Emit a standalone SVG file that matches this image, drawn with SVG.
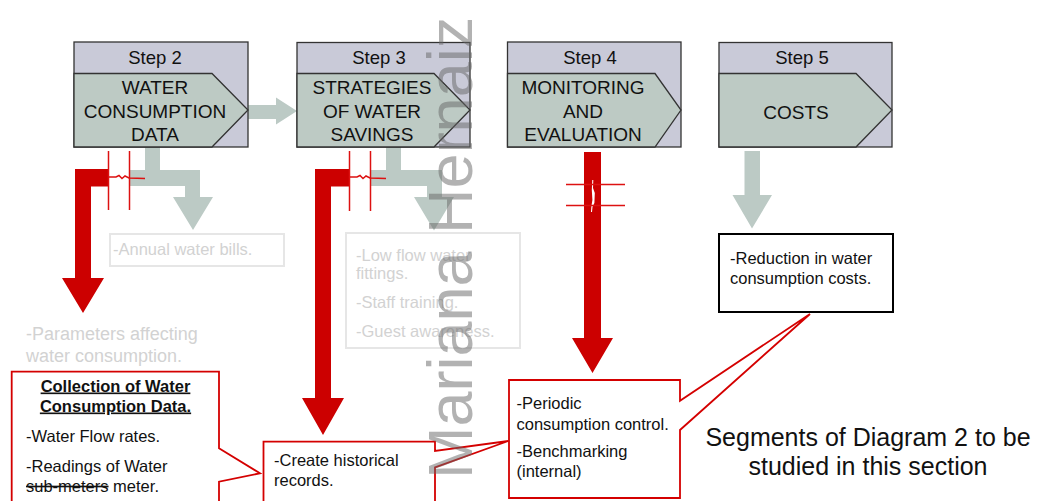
<svg xmlns="http://www.w3.org/2000/svg" width="1037" height="501" viewBox="0 0 1037 501">
  <style>
    text { font-family: "Liberation Sans", Arial, sans-serif; fill: #111; }
    .hdr { fill: #c9cad8; stroke: #333; stroke-width: 1.3; }
    .body { fill: #bdcac4; stroke: #333; stroke-width: 1.3; stroke-linejoin: miter; }
    .step { font-size: 18.5px; text-anchor: middle; }
    .lbl { font-size: 19px; text-anchor: middle; }
    .grey-arrow { fill: #bccac5; }
    .red-arrow { fill: #cc0000; }
    .brk { stroke: #dd1111; stroke-width: 1.5; fill: none; }
    .callout { fill: #fff; stroke: #d40000; stroke-width: 1.8; stroke-linejoin: miter; }
    .note { font-size: 16.5px; }
    .faded { font-size: 16.5px; fill: #d2d2d2; }
    .faded-box { fill: none; stroke: #e6e6e6; stroke-width: 2; }
    .mark { font-size: 63px; fill: #666; fill-opacity: 0.5; }
  </style>

  <!-- connectors: grey flow arrows and red focus arrows -->
  <g id="connectors">
    <polygon class="grey-arrow" points="248,105 276,105 276,97.5 297,111 276,124.5 276,119 248,119"/>
    <polygon class="grey-arrow" points="145,147 160,147 160,170 200,170 200,197 213,197 193,230 173,197 185,197 185,186 130,186 130,170 145,170"/>
    <polygon class="grey-arrow" points="386,147 401,147 401,170 442,170 442,197 454,197 434,230.5 414,197 427,197 427,186 371,186 371,170 386,170"/>
    <polygon class="grey-arrow" points="744.5,151 760,151 760,195 772,195 752,228.5 732.5,195 744.5,195"/>

    <!-- step 2 red arrow with break symbol -->
    <polygon class="red-arrow" points="75,169 108,169 108,186.5 91,186.5 91,278 104,278 83,313 62,278 75,278"/>
    <line class="brk" x1="108.5" y1="151" x2="108.5" y2="210"/>
    <line class="brk" x1="129.5" y1="151" x2="129.5" y2="210"/>
    <polyline class="brk" points="108,177 116,177 119,175.5 122,178.5 125,176 129,178 145,178.5"/>

    <!-- step 3 red arrow with break symbol -->
    <polygon class="red-arrow" points="315,169 349,169 349,186.5 331,186.5 331,398 344,398 323,435 302,398 315,398"/>
    <line class="brk" x1="349.5" y1="151" x2="349.5" y2="211"/>
    <line class="brk" x1="370.5" y1="151" x2="370.5" y2="211"/>
    <polyline class="brk" points="349,177 357,177 360,175.5 363,178.5 366,176 370,178 386,178.5"/>

    <!-- step 4 red arrow with break symbol -->
    <polygon class="red-arrow" points="584,152 601,152 601,338 613,338 592.5,373 572,338 584,338"/>
    <polygon fill="#fff" points="592.3,180 593.3,180 593,188 594.8,193 594.4,203 592.5,207 592,212 591,212 591.4,206 592.4,200 591.8,190"/>
    <line class="brk" x1="566" y1="184.5" x2="625" y2="184.5"/>
    <line class="brk" x1="566" y1="205.5" x2="625" y2="205.5"/>
  </g>

  <!-- process steps -->
  <g id="step2">
    <rect class="hdr" x="74" y="42" width="174" height="105"/>
    <polygon class="body" points="74,73.5 212,73.5 248,110 212,147 74,147"/>
    <text class="step" x="155" y="63.5">Step 2</text>
    <text class="lbl" x="155" y="94">WATER</text>
    <text class="lbl" x="155" y="117.5">CONSUMPTION</text>
    <text class="lbl" x="155" y="141">DATA</text>
  </g>
  <g id="step3">
    <rect class="hdr" x="297" y="42.5" width="173" height="104.5"/>
    <polygon class="body" points="297,73.5 434,73.5 470,110 434,147 297,147"/>
    <text class="step" x="379" y="63.5">Step 3</text>
    <text class="lbl" x="372" y="94">STRATEGIES</text>
    <text class="lbl" x="372" y="117.5">OF WATER</text>
    <text class="lbl" x="372" y="141">SAVINGS</text>
  </g>
  <g id="step4">
    <rect class="hdr" x="507.5" y="42" width="173.5" height="105"/>
    <polygon class="body" points="507.5,73.5 655,73.5 681,110 655,147 507.5,147"/>
    <text class="step" x="590" y="63.5">Step 4</text>
    <text class="lbl" x="583" y="94">MONITORING</text>
    <text class="lbl" x="583" y="117.5">AND</text>
    <text class="lbl" x="583" y="141">EVALUATION</text>
  </g>
  <g id="step5">
    <rect class="hdr" x="719" y="42.5" width="173" height="104.5"/>
    <polygon class="body" points="719,73.5 856,73.5 892,110 856,147 719,147"/>
    <text class="step" x="802" y="63.5">Step 5</text>
    <text class="lbl" x="796" y="119">COSTS</text>
  </g>

  <!-- greyed-out outputs -->
  <g id="annual-bills">
    <rect class="faded-box" x="110" y="234" width="174" height="32"/>
    <text class="faded" x="113" y="255">-Annual water bills.</text>
  </g>
  <g id="water-savings">
    <rect class="faded-box" x="346" y="233" width="174" height="115"/>
    <text class="faded" x="356" y="261">-Low flow water</text>
    <text class="faded" x="356" y="279">fittings.</text>
    <text class="faded" x="356" y="308">-Staff training.</text>
    <text class="faded" x="356" y="337">-Guest awareness.</text>
  </g>
  <g id="parameters">
    <text class="faded" x="26" y="340" style="font-size:18px">-Parameters affecting</text>
    <text class="faded" x="26" y="361.5" style="font-size:18px">water consumption.</text>
  </g>

  <!-- highlighted outputs -->
  <g id="cost-reduction">
    <rect x="719" y="234" width="174" height="78" fill="#fff" stroke="#000" stroke-width="2"/>
    <text class="note" x="730" y="264">-Reduction in water</text>
    <text class="note" x="730" y="283.5">consumption costs.</text>
  </g>
  <g id="monitoring-notes">
    <polygon class="callout" points="509,380 680,380 680,400.7 810,314 680,430 680,498 509,498"/>
    <text class="note" x="516.5" y="408.5">-Periodic</text>
    <text class="note" x="516.5" y="429.5">consumption control.</text>
    <text class="note" x="516.5" y="457">-Benchmarking</text>
    <text class="note" x="516.5" y="477">(internal)</text>
  </g>
  <g id="historical-records">
    <polygon class="callout" points="263.5,441.7 435,441.7 435,451 508.3,441 435,467.3 435,520 263.5,520"/>
    <text class="note" x="274" y="466">-Create historical</text>
    <text class="note" x="274" y="486">records.</text>
  </g>
  <g id="data-collection">
    <polygon class="callout" points="11.7,371.7 219,371.7 219,448.3 260,473.3 219,481.7 219,520 11.7,520"/>
    <text class="note" x="115.5" y="391.5" text-anchor="middle" font-weight="bold" text-decoration="underline">Collection of Water</text>
    <text class="note" x="115.5" y="411.5" text-anchor="middle" font-weight="bold" text-decoration="underline">Consumption Data.</text>
    <text class="note" x="26" y="441.5">-Water Flow rates.</text>
    <text class="note" x="26" y="471.5">-Readings of Water</text>
    <text class="note" x="26" y="491.5"><tspan text-decoration="line-through">sub-meters</tspan> meter.</text>
  </g>

  <g id="caption">
    <text x="868" y="446" text-anchor="middle" style="font-size:25px">Segments of Diagram 2 to be</text>
    <text x="868" y="475" text-anchor="middle" style="font-size:25px">studied in this section</text>
  </g>

  <!-- author mark running up the page -->
  <text class="mark" transform="translate(472,479) rotate(-90)" x="0" y="0">Mariana Hernaiz</text>
</svg>
